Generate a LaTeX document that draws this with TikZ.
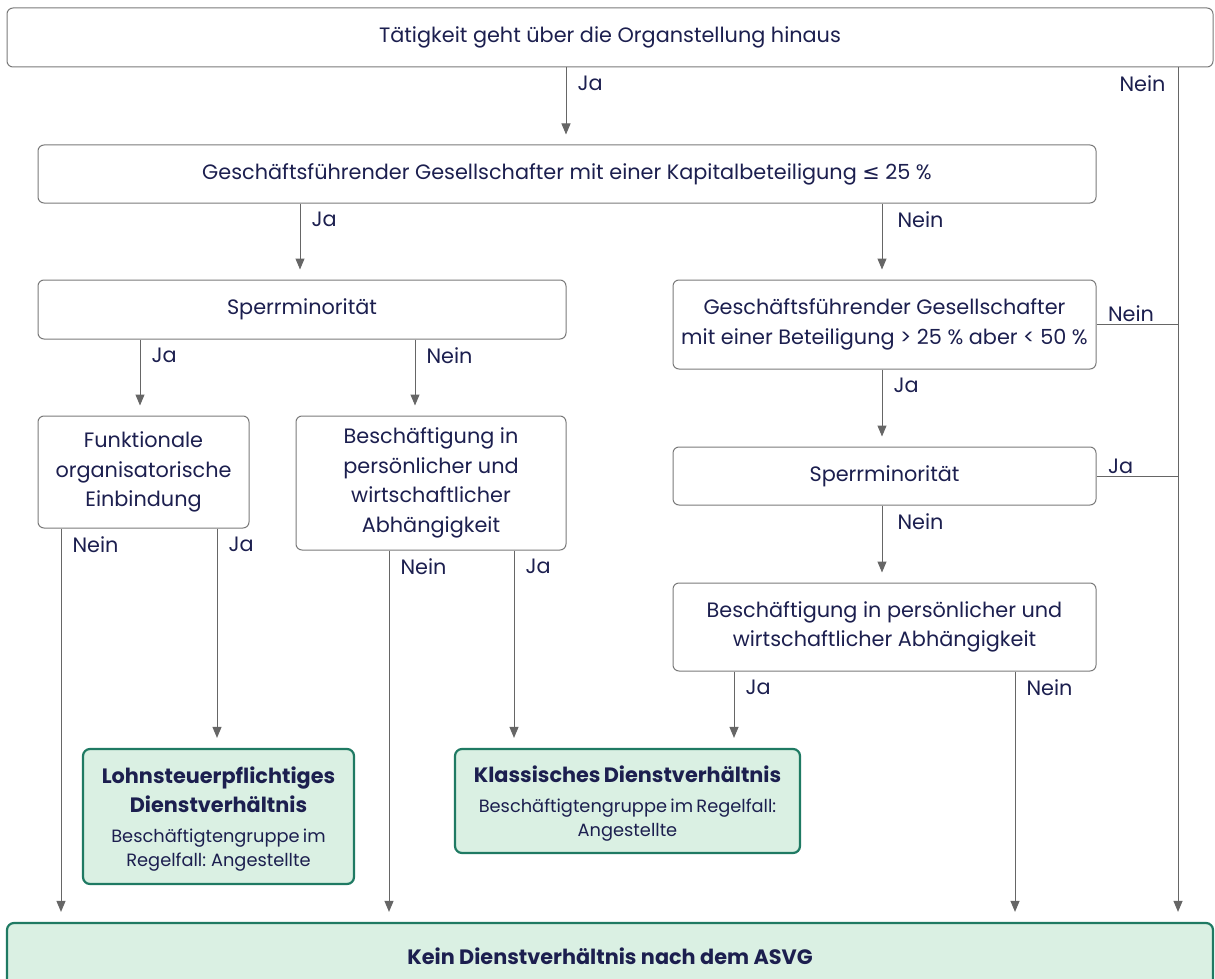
\documentclass[tikz,border=0pt]{standalone}
\usepackage{fontspec}
\setmainfont{Poppins}
\newfontfamily\symfont{DejaVu Sans}
\usetikzlibrary{arrows.meta}

\definecolor{navy}{HTML}{1C1F4F}
\definecolor{linegray}{HTML}{666666}
\definecolor{boxgray}{HTML}{7A7A7A}
\definecolor{greenfill}{HTML}{DAF0E3}
\definecolor{greenline}{HTML}{1F7A63}

\tikzset{
  qbox/.style={draw=boxgray, line width=1pt, rounded corners=6pt, fill=white,
    text=navy, align=center, inner sep=0pt, font=\fontsize{20.8}{29.5}\selectfont},
  resbox/.style={draw=greenline, line width=2.2pt, rounded corners=7pt, fill=greenfill,
    text=navy, align=center, inner sep=0pt},
  arr/.style={draw=linegray, line width=1pt, -{Triangle[length=11pt,width=9pt]}, shorten >=10pt},
  conn/.style={draw=linegray, line width=1pt},
  lbl/.style={text=navy, inner sep=0pt, font=\fontsize{20.8}{24}\selectfont},
  lblv/.style={lbl, anchor=north west, xshift=11pt, yshift=-8pt},
  lblh/.style={lbl, anchor=south west, xshift=11pt, yshift=2pt}
}
\newcommand{\restitle}[1]{{\fontsize{20.8}{29}\selectfont\bfseries #1\par}}
\newcommand{\ressub}[1]{{\vspace{6pt}\fontsize{17.8}{24}\selectfont #1\par}\vspace{-5pt}}

\begin{document}
\begin{tikzpicture}[x=1pt,y=-1pt]
\useasboundingbox (0,0) rectangle (1215,979);

\node[qbox, minimum width=1206pt, minimum height=59pt] (top) at (610,37.5) {Tätigkeit geht über die Organstellung hinaus};
\node[qbox, minimum width=1058pt, minimum height=58pt] (gfq) at (567,174) {Geschäftsführender Gesellschafter mit einer Kapitalbeteiligung {\symfont ≤} 25 \%};

\node[qbox, minimum width=528pt, minimum height=59pt] (sperrA) at (302,309.5) {Sperrminorität};
\node[qbox, minimum width=211pt, minimum height=112pt] (funk) at (143.5,472) {Funktionale\\organisatorische\\Einbindung};
\node[qbox, minimum width=270pt, minimum height=134pt] (beschA) at (431,483) {Beschäftigung in\\persönlicher und\\wirtschaftlicher\\Abhängigkeit};

\node[qbox, minimum width=423pt, minimum height=89pt] (gfB) at (884.5,324.5) {Geschäftsführender Gesellschafter\\mit einer Beteiligung > 25 \% aber < 50 \%};
\node[qbox, minimum width=423pt, minimum height=58pt] (sperrB) at (884.5,476) {Sperrminorität};
\node[qbox, minimum width=423pt, minimum height=88pt] (beschB) at (884.5,627) {Beschäftigung in persönlicher und\\wirtschaftlicher Abhängigkeit};

\node[resbox, minimum width=271pt, minimum height=135pt, text width=262pt] (lohn) at (218.5,816.5)
  {\restitle{Lohnsteuerpflichtiges\\Dienstverhältnis}\ressub{Beschäftigtengruppe im\\Regelfall: Angestellte}};
\node[resbox, minimum width=345pt, minimum height=104pt, text width=336pt] (klass) at (627.5,801)
  {\restitle{Klassisches Dienstverhältnis}\ressub{Beschäftigtengruppe im Regelfall:\\Angestellte}};
\node[resbox, minimum width=1206pt, minimum height=66pt, font=\fontsize{20.8}{24}\selectfont\bfseries] (kein) at (610,956) {Kein Dienstverhältnis nach dem ASVG};

% columns of the connectors
\coordinate (c1) at (61,0);
\coordinate (c2) at (140,0);
\coordinate (c3) at (217,0);
\coordinate (c4) at (300,0);
\coordinate (c5) at (389,0);
\coordinate (c6) at (415,0);
\coordinate (c7) at (514,0);
\coordinate (c8) at (566,0);
\coordinate (c9) at (734,0);
\coordinate (c10) at (882,0);
\coordinate (c11) at (1015,0);
\coordinate (c12) at (1178,0);

\draw[arr] (top.south -| c8) node[lblv] {Ja} -- (gfq.north -| c8);
\draw[arr] (top.south -| c12) node[lbl, anchor=north east, xshift=-12pt, yshift=-8pt] {Nein} -- (kein.north -| c12);

\draw[arr] (gfq.south -| c4) node[lblv] {Ja} -- (sperrA.north -| c4);
\draw[arr] (gfq.south -| c10) node[lblv, xshift=4pt] {Nein} -- (gfB.north -| c10);

\draw[arr] (sperrA.south -| c2) node[lblv] {Ja} -- (funk.north -| c2);
\draw[arr] (sperrA.south -| c6) node[lblv] {Nein} -- (beschA.north -| c6);

\draw[arr] (funk.south -| c1) node[lblv] {Nein} -- (kein.north -| c1);
\draw[arr] (funk.south -| c3) node[lblv] {Ja} -- (lohn.north -| c3);

\draw[arr] (beschA.south -| c5) node[lblv] {Nein} -- (kein.north -| c5);
\draw[arr] (beschA.south -| c7) node[lblv] {Ja} -- (klass.north -| c7);

\draw[conn] (gfB.east) node[lblh] {Nein} -- (gfB.east -| c12);
\draw[arr] (gfB.south -| c10) node[lblv] {Ja} -- (sperrB.north -| c10);

\draw[conn] (sperrB.east) node[lblh] {Ja} -- (sperrB.east -| c12);
\draw[arr] (sperrB.south -| c10) node[lblv, xshift=4pt] {Nein} -- (beschB.north -| c10);

\draw[arr] (beschB.south -| c9) node[lblv] {Ja} -- (klass.north -| c9);
\draw[arr] (beschB.south -| c11) node[lblv] {Nein} -- (kein.north -| c11);
\end{tikzpicture}
\end{document}
